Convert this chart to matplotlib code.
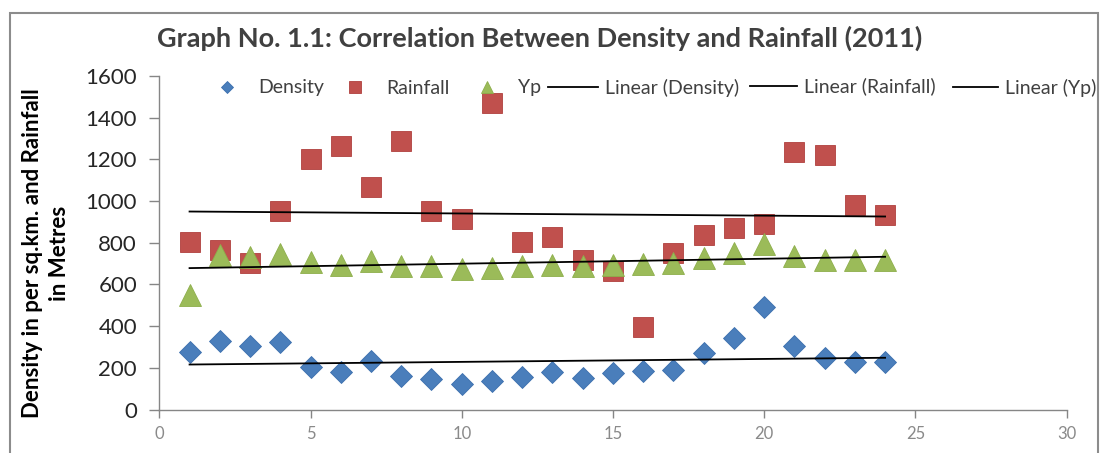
import numpy as np
import matplotlib
matplotlib.use("Agg")
import matplotlib.pyplot as plt
from matplotlib.patches import Rectangle

plt.rcParams['font.family'] = ['Lato', 'DejaVu Sans']

# Serial number of each area (x) and the three measured series
serial = [1, 2, 3, 4, 5, 6, 7, 8, 9, 10, 11, 12,
          13, 14, 15, 16, 17, 18, 19, 20, 21, 22, 23, 24]
density = [277, 330, 306, 322, 202, 178, 233, 161, 144, 122, 137, 154,
           181, 150, 174, 185, 189, 272, 344, 493, 306, 249, 229, 229]
rainfall = [802, 765, 704, 952, 1203, 1262, 1068, 1286, 952, 914, 1471, 802,
            827, 715, 666, 396, 752, 838, 869, 890, 1234, 1221, 979, 933]
yp = [548, 741, 733, 744, 706, 693, 714, 688, 688, 675, 680, 688,
      691, 688, 693, 699, 701, 727, 749, 794, 738, 719, 715, 715]

x_ticks = [0, 5, 10, 15, 20, 25, 30]
y_ticks = [0, 200, 400, 600, 800, 1000, 1200, 1400, 1600]

title = "Graph No. 1.1: Correlation Between Density and Rainfall (2011)"
y_label = "Density in per sq.km. and Rainfall\nin Metres"

BLUE = "#4A7EBB"
RED = "#C0504D"
GREEN = "#9BBB59"
AXIS_GREY = "#868686"
TEXT_DARK = "#404040"

W, H = 1101, 453
fig = plt.figure(figsize=(W / 100, H / 100), dpi=100)
ax = fig.add_axes([0.1447, 0.0960, 0.9687 - 0.1447, 0.8325 - 0.0960])

x = np.array(serial, dtype=float)
h_d, = ax.plot(x, density, linestyle="none", marker="D", markersize=11.3,
               color=BLUE, markeredgecolor="#3C6FAE", markeredgewidth=0.6,
               label="Density", zorder=3)
h_r, = ax.plot(x, rainfall, linestyle="none", marker="s", markersize=14.5,
               color=RED, markeredgecolor="#B0403D", markeredgewidth=0.6,
               label="Rainfall", zorder=3)
h_y, = ax.plot(x, yp, linestyle="none", marker="^", markersize=16.5,
               color=GREEN, markeredgecolor="#8DAE4B", markeredgewidth=0.6,
               label="Yp", zorder=4)

# Least-squares trend line for each series, drawn over the data span
trend_handles = []
for series, name in [(density, "Density"), (rainfall, "Rainfall"), (yp, "Yp")]:
    slope, intercept = np.polyfit(x, series, 1)
    xs = np.array([x.min(), x.max()])
    h, = ax.plot(xs, slope * xs + intercept, color="black", linewidth=1.3,
                 label=f"Linear ({name})", zorder=5)
    trend_handles.append(h)

ax.set_xlim(0, 30)
ax.set_ylim(0, 1600)
ax.set_xticks(x_ticks)
ax.set_yticks(y_ticks)
for side in ("top", "right"):
    ax.spines[side].set_visible(False)
for side in ("left", "bottom"):
    ax.spines[side].set_color(AXIS_GREY)
    ax.spines[side].set_linewidth(1.0)
ax.tick_params(axis="both", direction="out", width=1.0, color=AXIS_GREY)
ax.tick_params(axis="y", length=7, labelsize=16, labelcolor="#262626", pad=9)
ax.tick_params(axis="x", length=6, labelsize=12, labelcolor="#8A8A8A", pad=6)

fig.text(0.0418, 0.4415, y_label, rotation=90, ha="center", va="center",
         multialignment="center", fontsize=16, fontweight="bold",
         color="black", linespacing=1.35)

fig.text(0.4905, 0.916, title, ha="center", va="center", fontsize=19.5,
         fontweight="bold", color=TEXT_DARK)

# Legend row: one entry per legend so each key sits at its own x position
LEG_FS = 14
em_px = LEG_FS * 100 / 72
legend_row = [
    # handle, left edge of key (px), key length (px), vertical centre (px)
    (h_d, 203, 48, 88),
    (h_r, 331, 48, 88),
    (h_y, 463, 48, 88),
    (trend_handles[0], 548, 50, 88),
    (trend_handles[1], 750, 47, 86.5),
    (trend_handles[2], 953, 45, 87.5),
]
for handle, left_px, key_px, y_px in legend_row:
    fig.legend(handles=[handle], frameon=False, loc="center left",
               bbox_to_anchor=(left_px / W, 1 - y_px / H),
               borderpad=0, borderaxespad=0, fontsize=LEG_FS,
               handlelength=key_px / em_px, handletextpad=7 / em_px,
               markerscale=0.55, labelcolor=TEXT_DARK)

# Chart-area border
fig.add_artist(Rectangle((10 / W, -0.05), (1098 - 10) / W,
                         1 - 13 / H + 0.05, transform=fig.transFigure,
                         fill=False, edgecolor="#8C8C8C", linewidth=1.5,
                         clip_on=False))

fig.savefig("out.png", dpi=100)
